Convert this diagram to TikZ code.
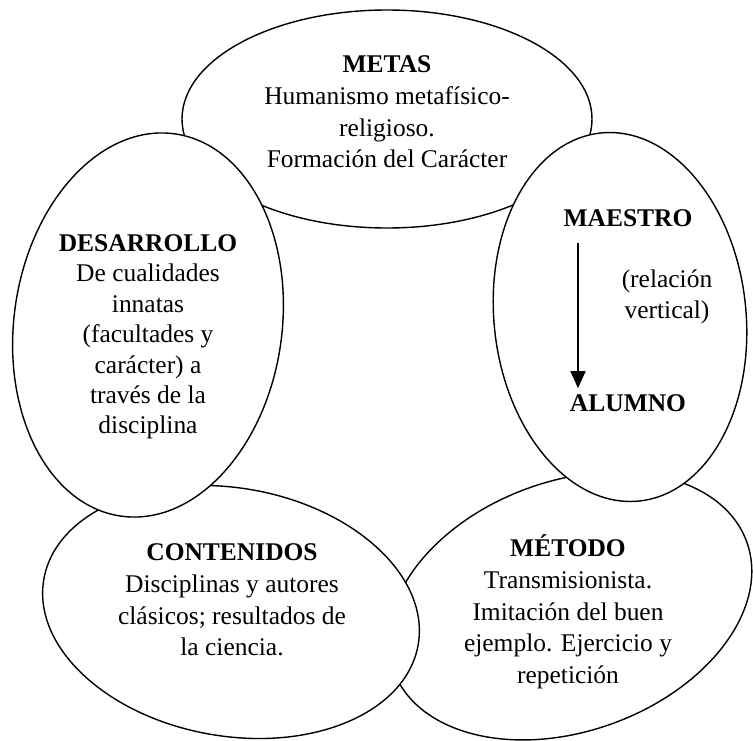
\documentclass[tikz,border=0pt]{standalone}
\usepackage{fontspec}
\setmainfont{Liberation Serif}
\usetikzlibrary{positioning,arrows.meta}

\tikzset{
  blob/.style={draw=black, fill=white, line width=0.8pt},
  txt/.style={align=center, font=\fontsize{14.5}{18}\selectfont},
}

\begin{document}
\begin{tikzpicture}[x=0.02cm, y=-0.02cm, node distance=3.7cm]
\useasboundingbox (0,0) rectangle (753,740);
% ellipses, back to front
\draw[blob] (387,119) ellipse [x radius=205, y radius=109];
\draw[blob, rotate around={20:(570,606)}] (570,606) ellipse [x radius=188, y radius=125];
\draw[blob, rotate around={-10:(231,612)}] (231,612) ellipse [x radius=190, y radius=124];
\draw[blob, rotate around={-8:(148,325)}] (148,325) ellipse [x radius=134, y radius=193];
\draw[blob, rotate around={6:(620,317)}] (620,317) ellipse [x radius=126, y radius=185];
% texts
\node[txt] (metas) at (387,112) {\textbf{METAS}\\Humanismo metafísico-\\religioso.\\Formación del Carácter};
\node[txt, font=\fontsize{14.5}{17.3}\selectfont] (desarrollo) at (148,337) {\textbf{DESARROLLO}\\De cualidades\\innatas\\(facultades y\\carácter) a\\través de la\\disciplina};
\node[txt] (contenidos) at (232,600) {\textbf{CONTENIDOS}\\Disciplinas y autores\\clásicos; resultados de\\la ciencia.};
\node[txt] (metodo) at (568,612) {\textbf{MÉTODO}\\Transmisionista.\\Imitación del buen\\ejemplo. Ejercicio y\\repetición};
\node[txt] (maestro) at (628,218) {\textbf{MAESTRO}};
\node[txt] (alumno) [below of=maestro] {\textbf{ALUMNO}};
\node[txt] (relacion) at (667,297) {(relación\\vertical)};
\draw[-{Triangle[length=0.34cm, width=0.3cm]}, line width=0.8pt] ([xshift=-1cm, yshift=-0.2cm]maestro.south) -- ([xshift=-1cm]maestro.south |- alumno.north);
\end{tikzpicture}
\end{document}
